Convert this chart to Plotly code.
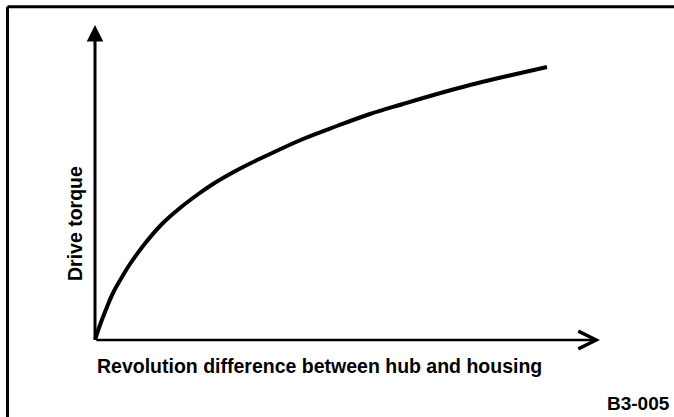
import plotly.graph_objects as go

# Values (arbitrary units, origin at the axes corner)
slip = [0, 5, 12, 18, 27, 35, 52, 68, 85, 102, 118, 135, 152, 175,
        208, 242, 275, 308, 342, 375, 408, 452]
torque = [0, 15, 33, 47, 63, 76, 99, 117, 132, 145, 156, 166, 175, 186,
          201, 214, 226, 236, 246, 255, 263, 273]

x_label = "Revolution difference between hub and housing"
y_label = "Drive torque"
fig_code = "B3-005"

FONT = "Liberation Sans, Arial, sans-serif"

fig = go.Figure()

fig.add_trace(go.Scatter(
    x=slip, y=torque,
    mode="lines",
    line=dict(color="black", width=4, shape="spline", smoothing=1.0),
    hoverinfo="skip",
    showlegend=False,
))

# axis arrows
fig.add_annotation(x=505, y=0, ax=0, ay=0, xref="x", yref="y", axref="x", ayref="y",
                   text="", showarrow=True, arrowhead=5, arrowwidth=2.5,
                   arrowsize=1.4, arrowcolor="black", standoff=0)
fig.add_annotation(x=0, y=315, ax=0, ay=0, xref="x", yref="y", axref="x", ayref="y",
                   text="", showarrow=True, arrowhead=2, arrowwidth=3,
                   arrowsize=1.1, arrowcolor="black", standoff=0)

# labels
fig.add_annotation(x=0, y=-26, xref="x", yref="y", text=x_label, showarrow=False,
                   xanchor="left", yanchor="middle",
                   font=dict(family=FONT, size=19.5, color="black", weight="bold"))
fig.add_annotation(x=-20, y=116, xref="x", yref="y", text=y_label, showarrow=False,
                   textangle=-90, xanchor="center", yanchor="middle",
                   font=dict(family=FONT, size=19.5, color="black", weight="bold"))
fig.add_annotation(x=577, y=-63, xref="x", yref="y", text=fig_code, showarrow=False,
                   xanchor="right", yanchor="middle",
                   font=dict(family=FONT, size=19, color="black", weight="bold"))

# frame of the scanned page (left and top edges only)
fig.add_shape(type="line", xref="paper", yref="paper", x0=0.0111, x1=0.0111,
              y0=0, y1=0.984, line=dict(color="black", width=3))
fig.add_shape(type="line", xref="paper", yref="paper", x0=0.0111, x1=1,
              y0=0.984, y1=0.984, line=dict(color="black", width=3))

fig.update_xaxes(range=[-95, 579], visible=False)
fig.update_yaxes(range=[-77, 340], visible=False)

fig.update_layout(
    width=674, height=417,
    margin=dict(l=0, r=0, t=0, b=0),
    plot_bgcolor="white", paper_bgcolor="white",
)

fig.write_html("out.html", config={"displayModeBar": False},
               post_script="document.body.style.margin='0';")
